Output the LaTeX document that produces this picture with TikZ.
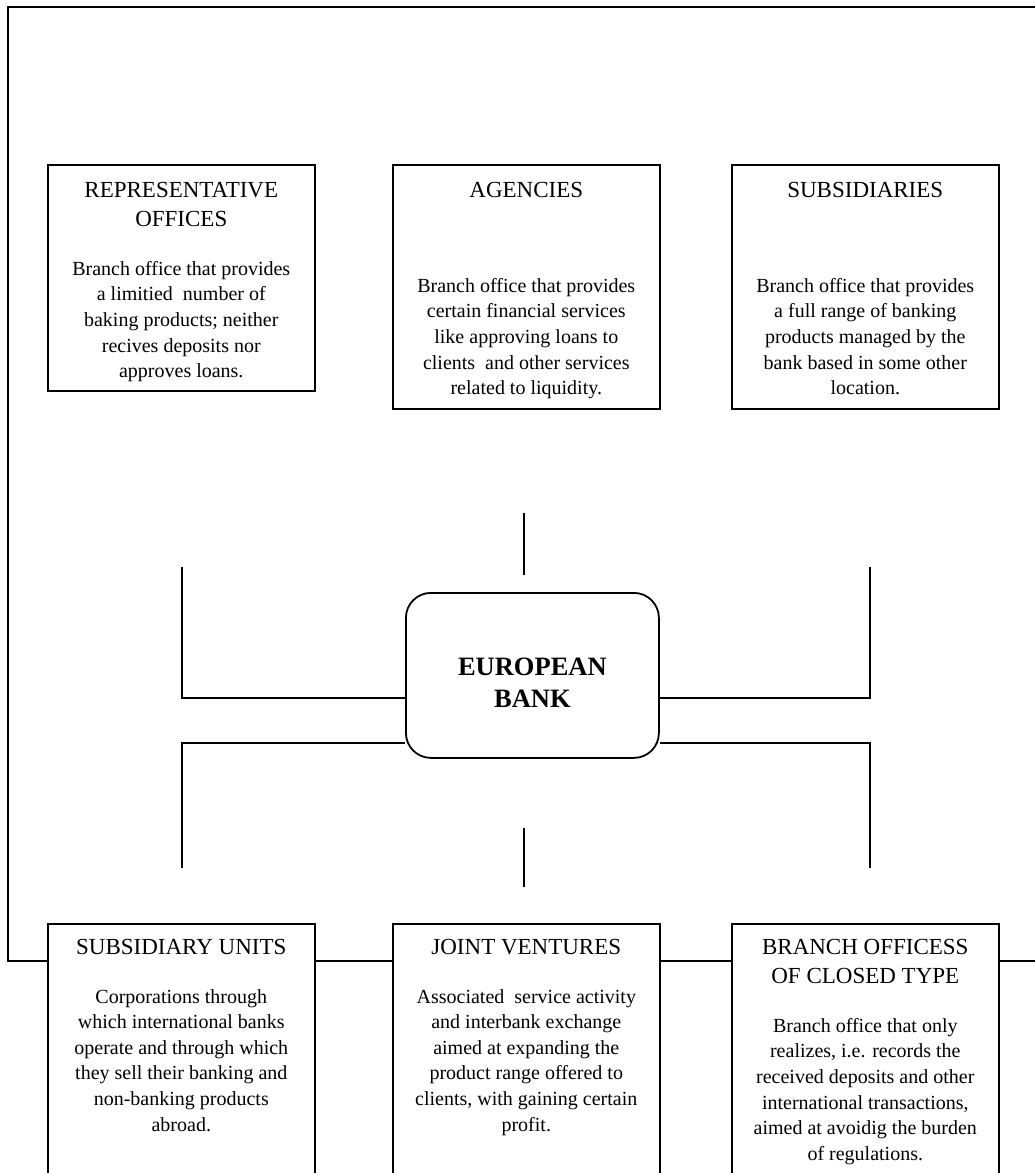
\documentclass[tikz,border=0pt]{standalone}
\usepackage{fontspec}
\setmainfont{Liberation Serif}
\usepackage{tikz}
\usetikzlibrary{positioning}

\begin{document}
\begin{tikzpicture}[
    x=1pt, y=-1pt,
    unit/.style={draw, line width=1.6pt, minimum width=267pt, anchor=north west, inner sep=0pt},
    head/.style={align=center, inner sep=0pt, font=\fontsize{23pt}{29pt}\selectfont},
    info/.style={align=center, inner sep=0pt, font=\fontsize{20pt}{25.6pt}\selectfont},
    bankbox/.style={draw, line width=1.8pt, rounded corners=25pt, minimum width=253pt,
      minimum height=165pt, anchor=north west, inner sep=0pt},
    link/.style={line width=1.5pt},
    frame/.style={line width=1.8pt}
]

  \useasboundingbox (0,0) rectangle (1035,1173);
  \clip (0,0) rectangle (1035,1173);

  % Top row of units
  \node[unit, minimum height=226pt] (rep)  at (47,164)  {};
  \node[unit, minimum height=244pt] (agen) at (392,164) {};
  \node[unit, minimum height=244pt] (subs) at (731,164) {};

  \node[head, below=18pt of rep.north]  (rep-t)  {REPRESENTATIVE\\OFFICES};
  \node[head, below=18pt of agen.north] (agen-t) {AGENCIES};
  \node[head, below=18pt of subs.north] (subs-t) {SUBSIDIARIES};

  \node[info, below=97pt of rep.north] (rep-b) {Branch office that provides\\a limitied\ \ number of\\baking products; neither\\recives deposits nor\\approves loans.};
  \node[info, below=114pt of agen.north] (agen-b) {Branch office that provides\\certain financial services\\like approving loans to\\clients\ \ and other services\\related to liquidity.};
  \node[info, below=114pt of subs.north] (subs-b) {Branch office that provides\\a full range of banking\\products managed by the\\bank based in some other\\location.};

  % The bank
  \node[bankbox] (bank) at (405,592) {};
  \node[align=center, inner sep=0pt, font=\fontsize{26.5pt}{31.5pt}\selectfont\bfseries,
    below=66pt of bank.north] (bank-t) {EUROPEAN\\BANK};

  % Bottom row of units
  \node[unit, minimum height=270pt] (sub-u)  at (47,923)  {};
  \node[unit, minimum height=270pt] (joint)  at (392,923) {};
  \node[unit, minimum height=270pt] (closed) at (731,923) {};

  \node[head, below=16pt of sub-u.north]  (sub-u-t)  {SUBSIDIARY UNITS};
  \node[head, below=16pt of joint.north]  (joint-t)  {JOINT VENTURES};
  \node[head, below=16pt of closed.north] (closed-t) {BRANCH OFFICESS\\OF CLOSED TYPE};

  \node[info, below=66pt of sub-u.north] (sub-u-b) {Corporations through\\which international banks\\operate and through which\\they sell their banking and\\non-banking products\\abroad.};
  \node[info, below=66pt of joint.north] (joint-b) {Associated\ \ service activity\\and interbank exchange\\aimed at expanding the\\product range offered to\\clients, with gaining certain\\profit.};
  \node[info, below=95pt of closed.north] (closed-b) {Branch office that only\\realizes, i.e. records the\\received deposits and other\\international transactions,\\aimed at avoidig the burden\\of regulations.};

  % free ends of the connectors
  \coordinate (up-l)  at (182,567);
  \coordinate (up-r)  at (870,567);
  \coordinate (up-c1) at (524,513);
  \coordinate (up-c2) at (524,575);
  \coordinate (dn-l)  at (182,868);
  \coordinate (dn-r)  at (870,868);
  \coordinate (dn-c1) at (524,828);
  \coordinate (dn-c2) at (524,887);

  % Connections around the bank
  \draw[link] (up-l) |- ([yshift=-22.5pt]bank.west);
  \draw[link] (up-r) |- ([yshift=-22.5pt]bank.east);
  \draw[link] (up-c1) -- (up-c2);
  \draw[link] ([yshift=-67.5pt]bank.west) -| (dn-l);
  \draw[link] ([yshift=-67.5pt]bank.east) -| (dn-r);
  \draw[link] (dn-c1) -- (dn-c2);

  % outer frame
  \coordinate (rail) at (0,961);
  \coordinate (top-r) at (1035,7);
  \coordinate (top-l) at (8,7);
  \coordinate (end-r) at (1035,961);
  \draw[frame] (top-r) -- (top-l) -- (top-l |- rail) -- (sub-u.west |- rail);
  \foreach \a/\b in {sub-u/joint, joint/closed}
  \draw[frame] (\a.east |- rail) -- (\b.west |- rail);
  \draw[frame] (closed.east |- rail) -- (end-r);

\end{tikzpicture}
\end{document}
